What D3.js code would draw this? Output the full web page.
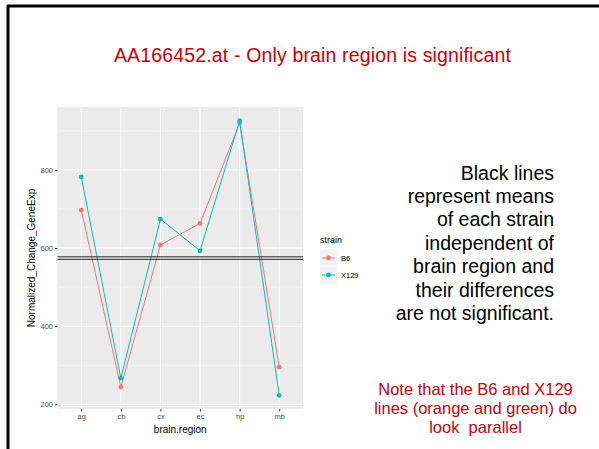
<!DOCTYPE html>
<html>
<head>
<meta charset="utf-8">
<script src="https://d3js.org/d3.v7.min.js"></script>
<style>
  html, body { margin: 0; padding: 0; background: #fff; }
  svg { display: block; font-family: "Liberation Sans", Arial, sans-serif; }
</style>
</head>
<body>
<svg id="chart" width="599" height="449"></svg>
<script>
// data
const regions = ['ag', 'cb', 'cx', 'ec', 'hp', 'mb'];
const strains = ['B6', 'X129'];
const b6Values = [697, 244, 608, 663, 920, 295];
const x129Values = [782, 267, 674, 593, 926, 223];
const yTicks = [200, 400, 600, 800];
const yMinor = [300, 500, 700, 900];
const titleText = 'AA166452.at - Only brain region is significant';
const sideNote = ['Black lines', 'represent means', 'of each strain', 'independent of',
  'brain region and', 'their differences', 'are not significant.'];
const redNote = ['Note that the B6 and X129', 'lines (orange and green) do', 'look  parallel'];

const colors = { B6: '#F8766D', X129: '#00BFC4' };
const seriesValues = { B6: b6Values, X129: x129Values };

const svg = d3.select('#chart');

// slide frame (left + top edges only)
svg.append('line').attr('x1', 8).attr('x2', 8).attr('y1', 5).attr('y2', 449)
  .attr('stroke', '#000').attr('stroke-width', 3);
svg.append('line').attr('x1', 7).attr('x2', 599).attr('y1', 6).attr('y2', 6)
  .attr('stroke', '#000').attr('stroke-width', 3);

svg.append('text').attr('x', 312.5).attr('y', 61.5).attr('text-anchor', 'middle')
  .attr('fill', '#c8000a').style('font-size', '19.5px').style('letter-spacing', '0.15px')
  .text(titleText);

// panel
const panel = { left: 57.5, right: 303, top: 107, bottom: 409 };
const x = d3.scalePoint().domain(regions)
  .range([panel.left, panel.right]).padding(0.6);
const y = d3.scaleLinear().domain([188, 961]).range([panel.bottom, panel.top]);

const g = svg.append('g');
g.append('rect').attr('x', panel.left).attr('y', panel.top)
  .attr('width', panel.right - panel.left).attr('height', panel.bottom - panel.top)
  .attr('fill', '#ebebeb');

g.selectAll('line.minor').data(yMinor).join('line').attr('class', 'minor')
  .attr('x1', panel.left).attr('x2', panel.right)
  .attr('y1', d => y(d)).attr('y2', d => y(d))
  .attr('stroke', '#fff').attr('stroke-width', 0.5);
g.selectAll('line.major').data(yTicks).join('line').attr('class', 'major')
  .attr('x1', panel.left).attr('x2', panel.right)
  .attr('y1', d => y(d)).attr('y2', d => y(d))
  .attr('stroke', '#fff').attr('stroke-width', 1);
g.selectAll('line.vmajor').data(regions).join('line').attr('class', 'vmajor')
  .attr('x1', d => x(d)).attr('x2', d => x(d))
  .attr('y1', panel.top).attr('y2', panel.bottom)
  .attr('stroke', '#fff').attr('stroke-width', 1);

// axes
const yAxis = g.append('g').attr('transform', `translate(${panel.left},0)`)
  .call(d3.axisLeft(y).tickValues(yTicks).tickSize(2.5).tickPadding(2));
const xAxis = g.append('g').attr('transform', `translate(0,${panel.bottom})`)
  .call(d3.axisBottom(x).tickSize(2.5).tickPadding(2));
[yAxis, xAxis].forEach(a => {
  a.select('.domain').remove();
  a.selectAll('.tick line').attr('stroke', '#333');
  a.selectAll('.tick text').attr('fill', '#4d4d4d')
    .style('font-size', '7.5px').style('font-family', '"Liberation Sans", Arial, sans-serif');
});

g.append('text').attr('x', (panel.left + panel.right) / 2).attr('y', 433)
  .attr('text-anchor', 'middle').style('font-size', '10px').attr('fill', '#000')
  .text('brain.region');
g.append('text').attr('transform', `translate(35,${(panel.top + panel.bottom) / 2}) rotate(-90)`)
  .attr('text-anchor', 'middle').style('font-size', '10px').attr('fill', '#000')
  .text('Normalized_Change_GeneExp');

// strain lines + points
const line = d3.line().x((d, i) => x(regions[i])).y(d => y(d));
strains.forEach(s => {
  g.append('path').datum(seriesValues[s]).attr('d', line)
    .attr('fill', 'none').attr('stroke', colors[s]).attr('stroke-width', 1);
  g.selectAll(null).data(seriesValues[s]).join('circle')
    .attr('cx', (d, i) => x(regions[i])).attr('cy', d => y(d))
    .attr('r', 2.4).attr('fill', colors[s]);
});

// mean lines per strain
strains.forEach(s => {
  const m = d3.mean(seriesValues[s]);
  g.append('line').attr('x1', panel.left).attr('x2', panel.right)
    .attr('y1', y(m)).attr('y2', y(m))
    .attr('stroke', '#111').attr('stroke-width', 0.9);
});

// legend
const leg = svg.append('g').attr('transform', 'translate(320,0)');
leg.append('text').attr('x', 0).attr('y', 243).style('font-size', '9px').text('strain');
strains.forEach((s, i) => {
  const cy = 258 + i * 17;
  leg.append('rect').attr('x', 0).attr('y', cy - 8.5).attr('width', 17).attr('height', 17)
    .attr('fill', '#f2f2f2');
  leg.append('line').attr('x1', 2).attr('x2', 15).attr('y1', cy).attr('y2', cy)
    .attr('stroke', colors[s]).attr('stroke-width', 1);
  leg.append('circle').attr('cx', 8.5).attr('cy', cy).attr('r', 2.4).attr('fill', colors[s]);
  leg.append('text').attr('x', 21).attr('y', cy + 2.7).style('font-size', '7.5px')
    .attr('fill', '#000').text(s);
});

// slide annotations
svg.append('g').selectAll('text').data(sideNote).join('text')
  .attr('x', 554).attr('y', (d, i) => 179.5 + i * 23.4).attr('text-anchor', 'end')
  .style('font-size', '19.5px').attr('fill', '#000').text(d => d);
svg.append('g').selectAll('text').data(redNote).join('text')
  .attr('x', 475.5).attr('y', (d, i) => 395 + i * 19).attr('text-anchor', 'middle')
  .style('font-size', '16.5px').style('white-space', 'pre')
  .attr('fill', '#c8000a').text(d => d);
</script>
</body>
</html>
